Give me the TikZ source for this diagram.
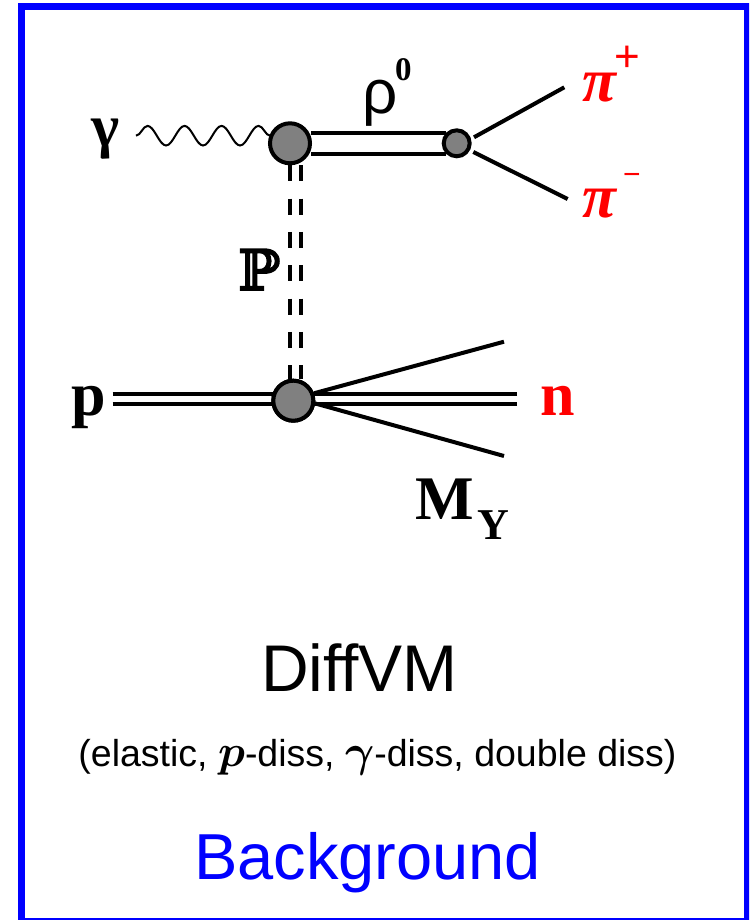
\documentclass[tikz,border=0pt]{standalone}
\usepackage{fontspec}
\usepackage{graphicx}
\usetikzlibrary{decorations.pathmorphing}
\setmainfont{Liberation Serif}
\setsansfont{Liberation Sans}
\newfontfamily\bbfont[FakeBold=3]{DejaVu Serif}
\definecolor{vertexgray}{HTML}{808080}
\tikzset{
  x=1pt,y=-1pt,
  vertex/.style={circle,draw=black,fill=vertexgray,line width=4pt,inner sep=0pt},
  bigvertex/.style={vertex,minimum size=40pt},
  smallvertex/.style={vertex,minimum size=26pt},
  leg/.style={draw=black,line width=4pt,line cap=butt},
  pomeron/.style={leg,dash pattern=on 16pt off 17.3pt},
  photon/.style={draw=black,line width=2pt,decorate,decoration={snake,segment length=37pt,amplitude=9.8pt}},
  lbl/.style={inner sep=0pt,anchor=base west,font=\rmfamily\bfseries},
  sanslbl/.style={inner sep=0pt,anchor=base,font=\sffamily},
}
\newcommand{\fs}[1]{\fontsize{#1}{#1}\selectfont}
\begin{document}
\begin{tikzpicture}
\useasboundingbox (0,0) rectangle (749,920);
\clip (0,0) rectangle (749,920);
\fill[white] (0,0) rectangle (749,920);
\draw[blue,line width=7pt] (21.5,6.5) rectangle (747.5,921.5);

% vertices
\node[bigvertex] (vt) at (290,143.3) {};
\node[smallvertex] (vs) at (456.7,143.3) {};
\node[bigvertex] (vb) at (293.3,400.7) {};

% free ends
\coordinate (gs) at (136,135.7);
\coordinate (ge) at (271,135.7);
\coordinate (pi1a) at (474,137.3);
\coordinate (pi1b) at (564.3,87.3);
\coordinate (pi2a) at (473.3,152);
\coordinate (pi2b) at (567.7,199);
\coordinate (pA) at (112.7,394);
\coordinate (pB) at (112.7,404);
\coordinate (pAe) at (275,394);
\coordinate (pBe) at (279,404);
\coordinate (nA) at (517,394);
\coordinate (nB) at (517,404);
\coordinate (my1) at (504,341.7);
\coordinate (my2) at (504,456);

% connectors
\draw[photon] (gs) -- (ge);
\draw[leg] ([xshift=-1pt,yshift=10.3pt]vt.east) -- ([xshift=4.5pt,yshift=10.3pt]vs.west);
\draw[leg] ([xshift=-1pt,yshift=-10.3pt]vt.east) -- ([xshift=4.5pt,yshift=-10.3pt]vs.west);
\draw[leg] (pi1a) -- (pi1b);
\draw[leg] (pi2a) -- (pi2b);
\draw[pomeron] (vt.south) -- (vt.south |- vb.north);
\draw[pomeron] ([xshift=10.7pt]vt.south) -- ([xshift=10.7pt]vt.south |- vb.north);
\draw[leg] (pA) -- (pAe);
\draw[leg] (pB) -- (pBe);
\draw[leg] (nA) -- (vb.center |- nA);
\draw[leg] (nB) -- (vb.center |- nB);
\draw[leg] (vb.center) ++(21,-7.5) -- (my1);
\draw[leg] (vb.center) ++(21,2.5) -- (my2);
\node[vertex,minimum size=40pt] (vbtop) at (vb.center) {};

% labels
\node[lbl] (gam) at (91,147) {\fs{60}γ};
\node[sanslbl,anchor=base west] (rho) at (362,114) {\fs{62}ρ};
\node[lbl] (rho0) at (395,81) {\fs{33}0};
\node[lbl,font=\rmfamily\bfseries\itshape,text=red] (pip) at (582,102) {\fs{62}π};
\node[sanslbl,anchor=base west,text=red] (pipc) at (614,72) {\fs{44}+};
\node[lbl,font=\rmfamily\bfseries\itshape,text=red] (pim) at (582,217) {\fs{62}π};
\node[sanslbl,anchor=base west,text=red] (pimc) at (622.8,185) {\fs{30}−};
\node[lbl,font=\bbfont] (pom) at (238,290) {\fs{56}ℙ};
\node[lbl] (p) at (71,415) {\fs{62}p};
\node[lbl,text=red] (n) at (540,415) {\fs{62}n};
\node[lbl] (m) at (415,519) {\fs{62}M};
\node[lbl] (y) at (477,539) {\fs{44}Y};
\node[sanslbl] (diff) at (359.5,691) {\fs{66}DiffVM};
\node[sanslbl] (sub) at (377.5,766) {\fs{37.5}(elastic, \scalebox{1.8}{\boldmath$p$}-diss, \scalebox{1.8}{\boldmath$\gamma$}-diss, double diss)};
\node[sanslbl,text=blue] (bg) at (367.5,879) {\fs{65}Background};
\end{tikzpicture}
\end{document}
